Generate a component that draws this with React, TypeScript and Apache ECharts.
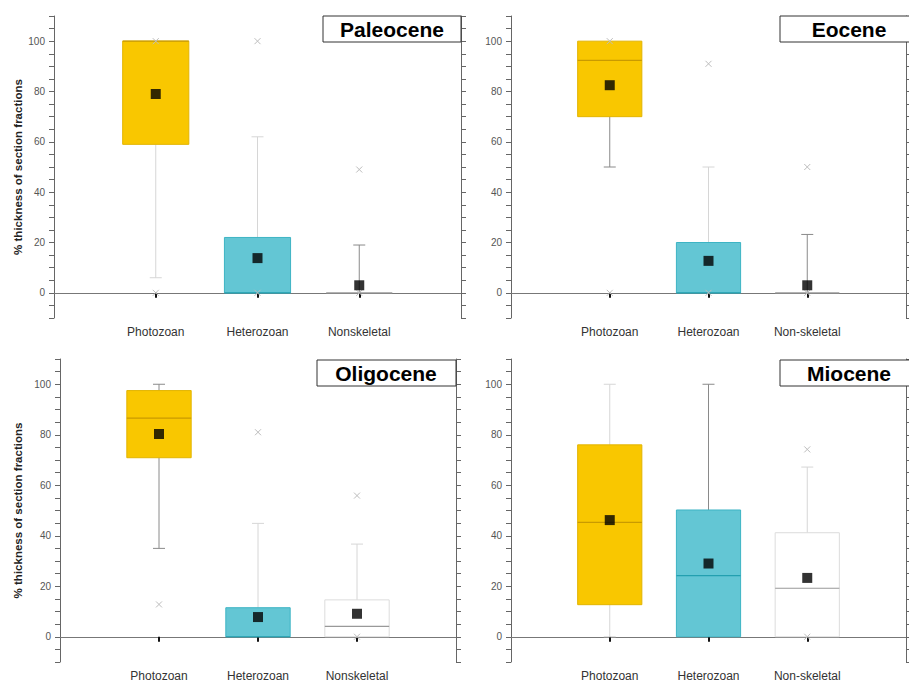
import React, { useEffect, useRef } from 'react';
import * as echarts from 'echarts';

// ---- data ----
const categoriesA = ['Photozoan', 'Heterozoan', 'Nonskeletal'];
const categoriesB = ['Photozoan', 'Heterozoan', 'Non-skeletal'];
const yTickLabels = [0, 20, 40, 60, 80, 100];
const epochNames = ['Paleocene', 'Eocene', 'Oligocene', 'Miocene'];

// [min, Q1, median, Q3, max]
const paleoceneBox = [[6, 59, 100, 100, 100], [0, 0, 0, 22, 62], [0, 0, 0, 0, 19]];
const paleoceneMean = [79, 13.8, 3];
const paleoceneOutliers = [[100, 0], [100, 0], [49, 0]];

const eoceneBox = [[50, 70, 92.4, 100, 100], [0, 0, 0, 20, 50], [0, 0, 0, 0, 23.2]];
const eoceneMean = [82.5, 12.7, 3];
const eoceneOutliers = [[100, 0], [91, 0], [50, 0]];

const oligoceneBox = [[35, 70.9, 86.6, 97.5, 100], [0, 0, 0, 11.5, 44.9], [0, 0, 4.1, 14.6, 36.7]];
const oligoceneMean = [80.3, 7.8, 9.1];
const oligoceneOutliers = [[12.8], [81], [55.9, 0]];

const mioceneBox = [[0, 12.7, 45.3, 76, 100], [0, 0, 24.2, 50.2, 100], [0, 0, 19.2, 41.2, 67.2]];
const mioceneMean = [46.2, 29, 23.3];
const mioceneOutliers = [[], [], [74.2, 0]];

// ---- styles (not data) ----
const LIGHT = '#d6d6d6';
const DARK = '#8a8a8a';
const boxStyles = [
  { fill: '#f9c700', stroke: '#e2b400', median: '#c99a00' },
  { fill: '#63c6d4', stroke: '#3db4c4', median: '#23a0b0' },
  { fill: '#ffffff', stroke: '#dcdcdc', median: '#999999' },
];
const whiskerTones = [
  [LIGHT, LIGHT, DARK],
  [DARK, LIGHT, DARK],
  [DARK, LIGHT, LIGHT],
  [LIGHT, DARK, LIGHT],
];
const grids = [
  { left: 54, top: 16, width: 407, height: 302 },
  { left: 511, top: 16, width: 408, height: 302 },
  { left: 60, top: 359, width: 396, height: 303 },
  { left: 511, top: 359, width: 408, height: 303 },
];
const titleBoxes = [
  { x: 323, y: 16, w: 138 },
  { x: 780, y: 16, w: 140 },
  { x: 317, y: 360, w: 139 },
  { x: 780, y: 360, w: 140 },
];

const panels = [
  { cats: categoriesA, box: paleoceneBox, mean: paleoceneMean, out: paleoceneOutliers, yName: true },
  { cats: categoriesB, box: eoceneBox, mean: eoceneMean, out: eoceneOutliers, yName: false },
  { cats: categoriesA, box: oligoceneBox, mean: oligoceneMean, out: oligoceneOutliers, yName: true },
  { cats: categoriesB, box: mioceneBox, mean: mioceneMean, out: mioceneOutliers, yName: false },
];

const FONT = '"Liberation Sans", Arial, sans-serif';

function buildOption() {
  const grid: any[] = [];
  const xAxis: any[] = [];
  const yAxis: any[] = [];
  const series: any[] = [];
  const graphic: any[] = [];

  panels.forEach((p, g) => {
    grid.push({ ...grids[g], containLabel: false });
    const catData = ['', ...p.cats, ''];
    xAxis.push({
      type: 'category', gridIndex: g, data: catData, boundaryGap: false,
      axisLine: { show: true, lineStyle: { color: '#777', width: 1 } },
      axisTick: { show: true, length: 5, interval: (i: number) => i >= 1 && i <= 3, lineStyle: { color: '#111', width: 2 } },
      axisLabel: { fontSize: 12, color: '#333', margin: 8, interval: 0, fontFamily: FONT },
      splitLine: { show: false },
    });
    xAxis.push({
      type: 'category', gridIndex: g, data: catData, boundaryGap: false, position: 'top',
      axisLine: { show: true, lineStyle: { color: '#777', width: 1 } },
      axisTick: { show: false }, axisLabel: { show: false }, splitLine: { show: false },
    });
    const yBase = {
      type: 'value', gridIndex: g, min: -10, max: 110, interval: 5,
      splitLine: { show: false },
      axisLine: { show: true, lineStyle: { color: '#666', width: 1 } },
      axisTick: { show: true, length: 5, lineStyle: { color: '#666', width: 1 } },
    };
    yAxis.push({
      ...yBase,
      axisLabel: {
        fontSize: 10, color: '#555', margin: 9, fontFamily: FONT,
        formatter: (v: number) => (yTickLabels.includes(v) ? String(v) : ''),
      },
      name: p.yName ? '% thickness of section fractions' : '',
      nameLocation: 'middle',
      nameGap: g === 0 ? 30 : 36,
      nameTextStyle: { fontSize: 11.5, fontWeight: 'bold', color: '#222', fontFamily: FONT },
    });
    yAxis.push({ ...yBase, position: 'right', axisLabel: { show: false } });

    const xi = g * 2;
    const yi = g * 2;
    const tones = whiskerTones[g];

    series.push({
      type: 'custom', xAxisIndex: xi, yAxisIndex: yi, z: 2,
      data: p.box.map((b, i) => [i + 1, ...b]),
      encode: { x: 0, y: [1, 2, 3, 4, 5] },
      renderItem: (params: any, api: any) => {
        const idx = params.dataIndex;
        const x = api.value(0);
        const vals = [1, 2, 3, 4, 5].map((k) => api.value(k));
        const pts = vals.map((v) => api.coord([x, v]));
        const cx = pts[0][0];
        const band = api.coord([x + 1, 0])[0] - cx;
        const half = band * 0.325;
        const [yMin, yQ1, yMed, yQ3, yMax] = pts.map((pt: number[]) => pt[1]);
        const wc = tones[idx];
        const st = boxStyles[idx];
        const children: any[] = [];
        const cap = 6;
        if (vals[0] < vals[1]) {
          children.push({ type: 'line', shape: { x1: cx, y1: yQ1, x2: cx, y2: yMin }, style: { stroke: wc, lineWidth: 1 } });
          children.push({ type: 'line', shape: { x1: cx - cap, y1: yMin, x2: cx + cap, y2: yMin }, style: { stroke: wc, lineWidth: 1 } });
        }
        if (vals[4] > vals[3]) {
          children.push({ type: 'line', shape: { x1: cx, y1: yQ3, x2: cx, y2: yMax }, style: { stroke: wc, lineWidth: 1 } });
          children.push({ type: 'line', shape: { x1: cx - cap, y1: yMax, x2: cx + cap, y2: yMax }, style: { stroke: wc, lineWidth: 1 } });
        }
        if (yQ1 - yQ3 > 0.5) {
          children.push({ type: 'rect', shape: { x: cx - half, y: yQ3, width: half * 2, height: yQ1 - yQ3 }, style: { fill: st.fill, stroke: st.stroke, lineWidth: 1 } });
        }
        children.push({ type: 'line', shape: { x1: cx - half, y1: yMed, x2: cx + half, y2: yMed }, style: { stroke: st.median, lineWidth: 1.2 } });
        return { type: 'group', children };
      },
    });

    const outData: number[][] = [];
    p.out.forEach((arr, i) => arr.forEach((v) => outData.push([i + 1, v])));
    series.push({
      type: 'custom', xAxisIndex: xi, yAxisIndex: yi, z: 3,
      data: outData,
      encode: { x: 0, y: 1 },
      renderItem: (_params: any, api: any) => {
        const [px, py] = api.coord([api.value(0), api.value(1)]);
        const s = 3;
        return {
          type: 'group',
          children: [
            { type: 'line', shape: { x1: px - s, y1: py - s, x2: px + s, y2: py + s }, style: { stroke: '#bdbdbd', lineWidth: 1 } },
            { type: 'line', shape: { x1: px - s, y1: py + s, x2: px + s, y2: py - s }, style: { stroke: '#bdbdbd', lineWidth: 1 } },
          ],
        };
      },
    });

    series.push({
      type: 'scatter', xAxisIndex: xi, yAxisIndex: yi, z: 4,
      symbol: 'rect', symbolSize: 10,
      itemStyle: { color: '#000' },
      data: p.mean.map((m, i) => [i + 1, m]),
    });

    const tb = titleBoxes[g];
    graphic.push({
      type: 'rect', z: 10,
      shape: { x: tb.x, y: tb.y, width: tb.w, height: 26 },
      style: { fill: '#fff', stroke: '#333', lineWidth: 1 },
    });
    graphic.push({
      type: 'text', z: 11,
      style: {
        text: epochNames[g], x: tb.x + 69, y: tb.y + 13,
        font: `bold 21px ${FONT}`, fill: '#000',
        textAlign: 'center', textVerticalAlign: 'middle',
      },
    });
  });

  return {
    animation: false,
    backgroundColor: '#fff',
    textStyle: { fontFamily: FONT },
    grid, xAxis, yAxis, series, graphic,
  };
}

export default function App() {
  const ref = useRef<HTMLDivElement>(null);
  useEffect(() => {
    if (!ref.current) return;
    const chart = echarts.init(ref.current, undefined, { renderer: 'svg' });
    chart.setOption(buildOption() as any);
    return () => chart.dispose();
  }, []);
  return <div ref={ref} style={{ position: 'fixed', left: 0, top: 0, width: 909, height: 682, background: '#fff' }} />;
}
